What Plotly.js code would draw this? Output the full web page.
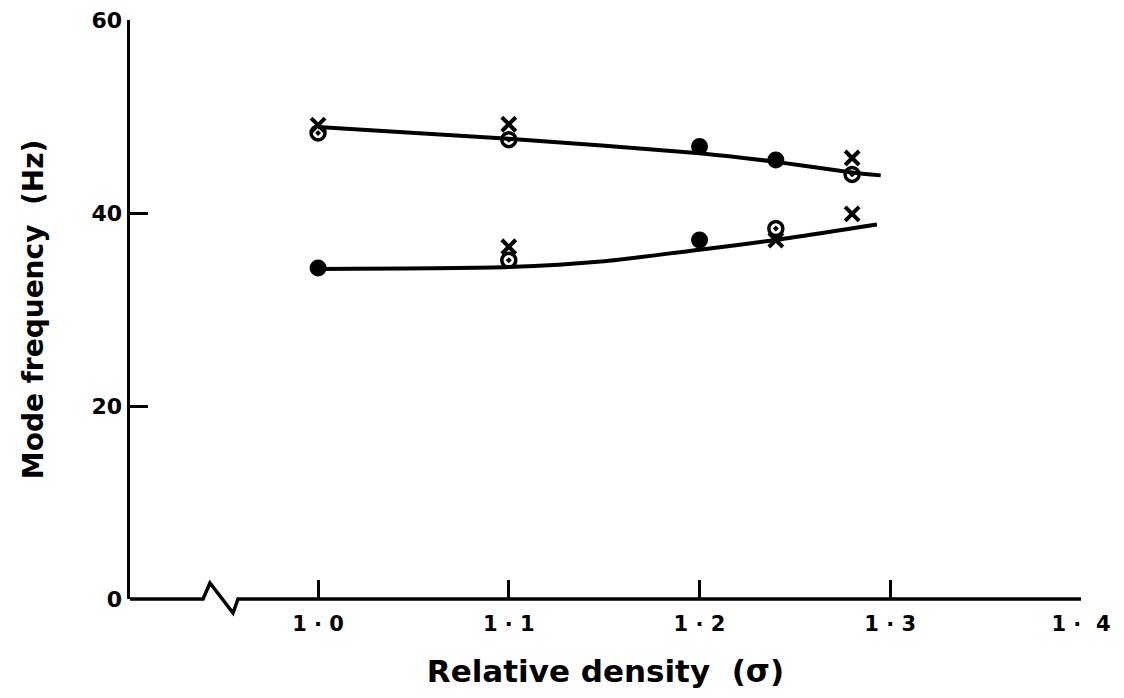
<!DOCTYPE html>
<html>
<head>
<meta charset="utf-8">
<script src="https://cdn.plot.ly/plotly-3.0.1.min.js"></script>
<style>html,body{margin:0;padding:0;background:#fff;}#chart{width:1124px;height:698px;}</style>
</head>
<body>
<div id="chart"></div>
<script>
// Upper mode (fitted curve and measured points)
const upperCurveX = [1.0, 1.1, 1.2, 1.24, 1.28, 1.295];
const upperCurveY = [48.9, 47.7, 46.2, 45.3, 44.2, 43.9];
const upperFilledX = [1.2, 1.24];
const upperFilledY = [46.9, 45.5];
const upperOpenX = [1.0, 1.1, 1.28];
const upperOpenY = [48.3, 47.6, 44.0];
const upperCrossX = [1.0, 1.1, 1.28];
const upperCrossY = [49.1, 49.2, 45.7];

// Lower mode
const lowerCurveX = [1.0, 1.1, 1.15, 1.2, 1.24, 1.293];
const lowerCurveY = [34.2, 34.4, 35.0, 36.2, 37.2, 38.8];
const lowerFilledX = [1.0, 1.2];
const lowerFilledY = [34.3, 37.2];
const lowerOpenX = [1.1, 1.24];
const lowerOpenY = [35.1, 38.4];
const lowerCrossX = [1.1, 1.24, 1.28];
const lowerCrossY = [36.5, 37.2, 39.9];

const xTickVals = [1.0, 1.1, 1.2, 1.3, 1.4];
const xTickText = ['1 · 0', '1 · 1', '1 · 2', '1 · 3', '1 ·  4'];
const yTickVals = [0, 20, 40, 60];
const yTickText = ['0', '20', '40', '60'];

const FONT = 'DejaVu Sans, Arial, sans-serif';
const curveLine = {color: '#000', width: 4, shape: 'spline', smoothing: 0.6};
const filled = {symbol: 'circle', size: 17, color: '#000', line: {width: 0}};
const openDot = {symbol: 'circle-open-dot', size: 14, color: '#000', line: {width: 3.5, color: '#000'}};
const cross = {symbol: 'x-thin-open', size: 14, color: '#000', line: {width: 4, color: '#000'}};

const traces = [
  {x: upperCurveX, y: upperCurveY, mode: 'lines', line: curveLine, hoverinfo: 'skip'},
  {x: lowerCurveX, y: lowerCurveY, mode: 'lines', line: curveLine, hoverinfo: 'skip'},
  {x: upperFilledX, y: upperFilledY, mode: 'markers', marker: filled},
  {x: lowerFilledX, y: lowerFilledY, mode: 'markers', marker: filled},
  {x: upperOpenX, y: upperOpenY, mode: 'markers', marker: openDot},
  {x: lowerOpenX, y: lowerOpenY, mode: 'markers', marker: openDot},
  {x: upperCrossX, y: upperCrossY, mode: 'markers', marker: cross},
  {x: lowerCrossX, y: lowerCrossY, mode: 'markers', marker: cross}
];

const layout = {
  width: 1124, height: 698,
  margin: {l: 130, r: 43, t: 20, b: 99},
  paper_bgcolor: '#fff', plot_bgcolor: '#fff',
  showlegend: false,
  font: {family: FONT, color: '#000'},
  xaxis: {
    range: [0.9014, 1.4],
    tickvals: xTickVals, ticktext: xTickText,
    ticks: 'inside', ticklen: 19, tickwidth: 3, tickcolor: '#000',
    ticklabelstandoff: 10,
    showline: false, showgrid: false, zeroline: false,
    tickfont: {family: FONT, size: 21, weight: 'bold'},
    title: {text: 'Relative density  (σ)', font: {family: FONT, size: 31, weight: 'bold'}, standoff: 25}
  },
  yaxis: {
    range: [0, 60],
    tickvals: yTickVals, ticktext: yTickText,
    ticks: 'inside', ticklen: 18, tickwidth: 3, tickcolor: '#000',
    showline: true, linewidth: 3.5, linecolor: '#000',
    showgrid: false, zeroline: false,
    tickfont: {family: FONT, size: 22, weight: 'bold'},
    title: {text: 'Mode frequency  (Hz)', font: {family: FONT, size: 28, weight: 'bold'}, standoff: 40}
  },
  shapes: [
    {type: 'path', xref: 'paper', yref: 'paper', layer: 'above',
     path: 'M 0,0 L 0.0768,0 L 0.0841,0.0276 L 0.1083,-0.0242 L 0.1136,0 L 1,0',
     line: {color: '#000', width: 3.5}}
  ]
};

Plotly.newPlot('chart', traces, layout, {displayModeBar: false, staticPlot: true});
</script>
</body>
</html>
